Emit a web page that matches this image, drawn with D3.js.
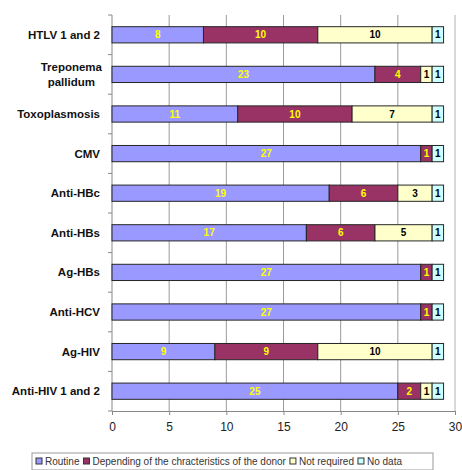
<!DOCTYPE html>
<html>
<head>
<meta charset="utf-8">
<script src="https://cdn.jsdelivr.net/npm/d3@7"></script>
<style>
  body { margin: 0; background: #fff; }
  svg { font-family: "Liberation Sans", Arial, sans-serif; }
</style>
</head>
<body>
<div id="chart"></div>
<script>
// Datos
const categories = ["HTLV 1 and 2", "Treponema\npallidum", "Toxoplasmosis", "CMV", "Anti-HBc",
    "Anti-HBs", "Ag-HBs", "Anti-HCV", "Ag-HIV", "Anti-HIV 1 and 2"];
const routine = [8, 23, 11, 27, 19, 17, 27, 27, 9, 25];
const depending = [10, 4, 10, 1, 6, 6, 1, 1, 9, 2];
const notRequired = [10, 1, 7, 0, 3, 5, 0, 0, 10, 1];
const noData = [1, 1, 1, 1, 1, 1, 1, 1, 1, 1];
const seriesNames = ["Routine", "Depending of the chracteristics of the donor", "Not required", "No data"];
const xTicks = [0, 5, 10, 15, 20, 25, 30];

const COLORS = ["#9999ff", "#993366", "#ffffcc", "#ccffff"];
const LABEL_COLORS = ["#ffff00", "#ffff00", "#000000", "#000000"];

// Dimensiones
const width = 462;
const height = 470;
const margin = { top: 15, bottom: 59, right: 7, left: 112 };

const svg = d3.select("#chart")
    .append("svg")
    .attr("width", width)
    .attr("height", height);

const escalaX = d3.scaleLinear()
    .domain([0, 30])
    .range([margin.left, width - margin.right]);

const escalaY = d3.scaleBand()
    .domain(categories)
    .range([margin.top, height - margin.bottom])
    .padding(0);

const barH = escalaY.bandwidth() * 0.41;

// gridlines
svg.append("g")
    .selectAll("line")
    .data(xTicks.filter(t => t > 0))
    .join("line")
    .attr("x1", d => escalaX(d))
    .attr("x2", d => escalaX(d))
    .attr("y1", margin.top)
    .attr("y2", height - margin.bottom)
    .attr("stroke", d => d === 30 ? "#b0b0b0" : "#9a9a9a")
    .attr("stroke-width", 1);

// eje X
const ejeX = d3.axisBottom(escalaX).tickValues(xTicks).tickSize(4).tickSizeOuter(0);
const gX = svg.append("g")
    .attr("transform", `translate(0, ${height - margin.bottom})`)
    .call(ejeX);
gX.select(".domain").attr("stroke", "#888");
gX.selectAll(".tick line").attr("stroke", "#888");
gX.selectAll(".tick text")
    .attr("font-size", 12)
    .attr("font-family", "Liberation Sans, Arial, sans-serif")
    .attr("fill", "#222")
    .attr("dy", "1.05em");

// eje Y (ticks en los limites de categoria)
const bounds = d3.range(categories.length + 1).map(i => margin.top + i * escalaY.step());
svg.append("line")
    .attr("x1", margin.left).attr("x2", margin.left)
    .attr("y1", margin.top).attr("y2", height - margin.bottom)
    .attr("stroke", "#888");
svg.append("g")
    .selectAll("line")
    .data(bounds)
    .join("line")
    .attr("x1", margin.left - 4).attr("x2", margin.left)
    .attr("y1", d => d).attr("y2", d => d)
    .attr("stroke", "#888");

// etiquetas de categoria
categories.forEach(cat => {
    const lines = cat.split("\n");
    const cy = escalaY(cat) + escalaY.bandwidth() / 2;
    const t = svg.append("text")
        .attr("font-size", 11.5)
        .attr("font-weight", "bold")
        .attr("fill", "#111");
    if (lines.length === 1) {
        t.attr("x", margin.left - 12).attr("y", cy).attr("dy", "0.35em")
            .attr("text-anchor", "end").text(cat);
    } else {
        t.attr("text-anchor", "middle");
        lines.forEach((l, i) => {
            t.append("tspan")
                .attr("y", cy + (i - (lines.length - 1) / 2) * 15)
                .attr("dy", "0.35em")
                .text(l);
        });
        const w = d3.max(t.selectAll("tspan").nodes(), n => n.getComputedTextLength());
        t.selectAll("tspan").attr("x", margin.left - 10 - w / 2);
    }
});

// barras apiladas
const tabla = categories.map((c, i) => ({
    cat: c, values: [routine[i], depending[i], notRequired[i], noData[i]]
}));

const contenedorBarras = svg.append("g");
tabla.forEach(row => {
    let acc = 0;
    const y0 = escalaY(row.cat) + (escalaY.bandwidth() - barH) / 2;
    row.values.forEach((v, k) => {
        if (v <= 0) return;
        const x0 = escalaX(acc);
        const x1 = escalaX(acc + v);
        contenedorBarras.append("rect")
            .attr("x", x0)
            .attr("y", y0)
            .attr("width", x1 - x0)
            .attr("height", barH)
            .attr("fill", COLORS[k])
            .attr("stroke", "#262626")
            .attr("stroke-width", 1);
        contenedorBarras.append("text")
            .attr("x", (x0 + x1) / 2)
            .attr("y", y0 + barH / 2)
            .attr("dy", "0.36em")
            .attr("text-anchor", "middle")
            .attr("font-size", 10)
            .attr("font-weight", "bold")
            .attr("fill", LABEL_COLORS[k])
            .text(v);
        acc += v;
    });
});

// leyenda
const leyenda = svg.append("g");
const legBox = leyenda.append("rect")
    .attr("x", 32).attr("y", 453)
    .attr("width", 401).attr("height", 17)
    .attr("fill", "#fff")
    .attr("stroke", "#999");
let lx = 36;
seriesNames.forEach((name, k) => {
    leyenda.append("rect")
        .attr("x", lx).attr("y", 458)
        .attr("width", 6).attr("height", 6)
        .attr("fill", COLORS[k])
        .attr("stroke", "#333");
    const txt = leyenda.append("text")
        .attr("x", lx + 9).attr("y", 465)
        .attr("font-size", 10)
        .attr("fill", "#333")
        .text(name);
    lx += 9 + txt.node().getComputedTextLength() + 4;
});
</script>
</body>
</html>
